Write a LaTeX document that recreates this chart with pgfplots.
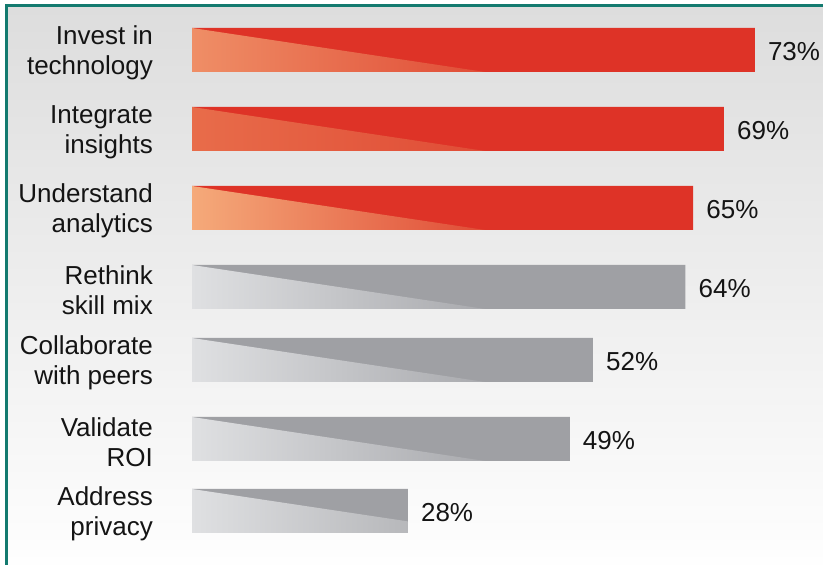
\documentclass[border=0pt]{standalone}
\usepackage{fontspec}
\setmainfont{Liberation Sans}
\usepackage{pgfplots}
\pgfplotsset{compat=1.18}
\definecolor{tealb}{HTML}{137A6F}
\definecolor{bgtop}{HTML}{DDDDDD}
\definecolor{bgbot}{HTML}{FEFEFE}
\definecolor{barred}{HTML}{DE3327}
\definecolor{bargray}{HTML}{9FA0A4}
\definecolor{redA}{HTML}{EF8E66}
\definecolor{redB}{HTML}{E86C4A}
\definecolor{redC}{HTML}{F5AA7A}
\definecolor{redR}{HTML}{E04C36}
\definecolor{grayL}{HTML}{DFE0E2}
\definecolor{grayR}{HTML}{A9AAAE}
\definecolor{grayM}{HTML}{B7B8BB}
\newcommand{\lab}{\fontsize{26bp}{30bp}\selectfont}
\begin{document}
\begin{tikzpicture}[x=1bp,y=1bp]
\path[use as bounding box] (0,0) rectangle (823,565);
\fill[white] (0,0) rectangle (823,565);
\fill[top color=bgtop, bottom color=bgbot] (7,0) rectangle (823,559);
\draw[tealb, line width=3.2bp] (6.8,0) -- (6.8,559.3) -- (823,559.3);
\begin{axis}[
  at={(192bp,0bp)}, anchor=south west,
  scale only axis, width=616.8bp, height=565bp,
  xmin=0, xmax=80, ymin=0, ymax=565,
  clip=false,
  axis line style={draw=none},
  xtick=\empty,
  ytick={54,126,205,278,357,436,515},
  yticklabels={{Address\\privacy},{Validate\\ROI},{Collaborate\\with peers},{Rethink\\skill mix},{Understand\\analytics},{Integrate\\insights},{Invest in\\technology}},
  ytick style={draw=none},
  major tick length=0pt,
  yticklabel style={align=right, font=\lab, inner sep=0pt, anchor=east, xshift=-39bp, yshift=-3bp, text=black!92},
  every node near coord/.append style={font=\lab, anchor=west, inner sep=0pt, xshift=13bp, yshift=-1.5bp, text=black!92},
]
% red bars
\addplot[xbar, bar width=44, bar shift=0pt, draw=none, fill=barred,
  point meta=explicit symbolic, nodes near coords]
  coordinates {(73,515) [73\%] (69,436) [69\%] (65,357) [65\%]};
% gray bars
\addplot[xbar, bar width=44, bar shift=0pt, draw=none, fill=bargray,
  point meta=explicit symbolic, nodes near coords]
  coordinates {(64,278) [64\%] (52,205) [52\%] (49,126) [49\%] (28,54) [28\%]};
% gradient triangles
\addplot[draw=none, mark=none, left color=redA, right color=redR, forget plot]
  coordinates {(0,537) (38,493) (0,493)} -- cycle;
\addplot[draw=none, mark=none, left color=redB, right color=redR, forget plot]
  coordinates {(0,458) (38,414) (0,414)} -- cycle;
\addplot[draw=none, mark=none, left color=redC, right color=redR, forget plot]
  coordinates {(0,379) (38,335) (0,335)} -- cycle;
\addplot[draw=none, mark=none, left color=grayL, right color=grayR, forget plot]
  coordinates {(0,300) (38,256) (0,256)} -- cycle;
\addplot[draw=none, mark=none, left color=grayL, right color=grayR, forget plot]
  coordinates {(0,227) (38,183) (0,183)} -- cycle;
\addplot[draw=none, mark=none, left color=grayL, right color=grayR, forget plot]
  coordinates {(0,148) (38,104) (0,104)} -- cycle;
\addplot[draw=none, mark=none, left color=grayL, right color=grayM, forget plot]
  coordinates {(0,76) (28,43.6) (28,32) (0,32)} -- cycle;
\end{axis}
\end{tikzpicture}
\end{document}
